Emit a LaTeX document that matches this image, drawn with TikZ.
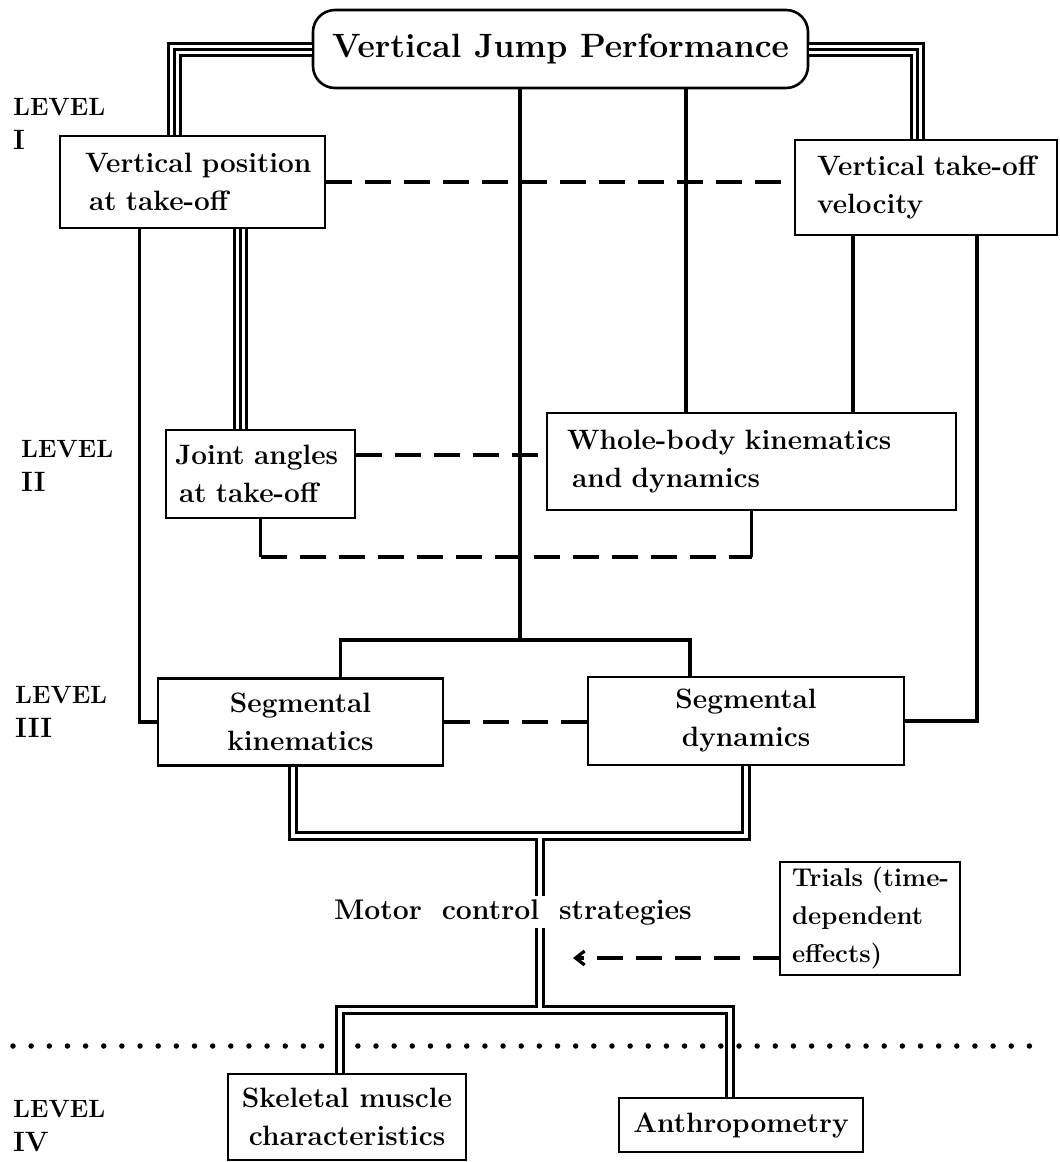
\documentclass[tikz,border=0pt]{standalone}
\usepackage{fontspec}
\usetikzlibrary{arrows.meta}
\begin{document}
\begin{tikzpicture}[x=1pt,y=-1pt]
\tikzset{
 box/.style={draw, line width=2.6pt, inner sep=0pt, font=\bfseries\fontsize{28pt}{38pt}\selectfont},
 boxl/.style={box, align=left},
 boxc/.style={box, align=center},
 conn/.style={line width=3.5pt},
 dashl/.style={line width=3.2pt, dash pattern=on 26pt off 13pt},
 dbl/.style={double, double distance=4.5pt, line width=2.6pt},
 triple/.style={line width=15pt, postaction={draw=white, line width=9pt, postaction={draw=black, line width=3pt}}},
 lvl/.style={anchor=north west, align=left, inner sep=0pt, font=\bfseries\fontsize{25pt}{34pt}\selectfont},
 dotsep/.style={line width=5.5pt, line cap=round, dash pattern=on 0pt off 18.15pt}
}
\useasboundingbox (0,0) rectangle (1060,1162);

% nodes
\node[box, rounded corners=22pt, minimum width=495pt, minimum height=78pt, font=\bfseries\fontsize{33.7pt}{38pt}\selectfont] (title) at (560.5,49) {Vertical Jump Performance};
\node[boxl, text width=215pt, inner xsep=25pt, minimum height=92pt] (vp) at (192.5,182) {\mbox{Vertical position}\\\mbox{\hspace{4pt}at take-off}};
\node[boxl, text width=218pt, inner xsep=22pt, minimum height=95pt] (vto) at (926,187.5) {\mbox{Vertical take-off}\\\mbox{velocity}};
\node[boxl, text width=171pt, inner xsep=9pt, minimum height=88pt] (ja) at (260.5,474) {\mbox{Joint angles}\\\mbox{\hspace{4pt}at take-off}};
\node[boxl, text width=369pt, inner xsep=20pt, minimum height=97pt] (wb) at (751.5,461.5) {\mbox{Whole-body kinematics}\\\mbox{\hspace{5pt}and dynamics}};
\node[boxc, minimum width=285pt, minimum height=87pt] (kin) at (300.5,722) {Segmental\\kinematics};
\node[boxc, minimum width=316pt, minimum height=88pt] (dyn) at (746,721) {Segmental\\dynamics};
\node[inner xsep=0pt, inner ysep=3pt, font=\bfseries\fontsize{28.4pt}{38pt}\selectfont] (mcs) at (513,912) {Motor\hspace{0.7em}control\hspace{0.7em}strategies};
\node[boxl, text width=156pt, inner xsep=12pt, minimum height=113pt, font=\bfseries\fontsize{25.7pt}{38pt}\selectfont] (trials) at (870,918.5) {\mbox{Trials (time-}\\\mbox{dependent}\\\mbox{effects)}};
\node[boxc, minimum width=238pt, minimum height=86pt] (sk) at (347,1117) {Skeletal muscle\\characteristics};
\node[boxc, minimum width=244pt, minimum height=54pt] (anth) at (741,1125) {Anthropometry};

% level labels
\node[lvl] (l1) at (13,98) {LEVEL\\{\fontsize{28pt}{34pt}\selectfont I}};
\node[lvl] (l2) at (21,440) {LEVEL\\{\fontsize{28pt}{34pt}\selectfont II}};
\node[lvl] (l3) at (15,686) {LEVEL\\{\fontsize{28pt}{34pt}\selectfont III}};
\node[lvl] (l4) at (13,1100) {LEVEL\\{\fontsize{28pt}{34pt}\selectfont IV}};

% junction coordinates
\coordinate (j3) at (520,640);
\coordinate (j4) at (540,836);
\coordinate (j5) at (540,1010);
\coordinate (jw) at (0,557);
\coordinate (arrend) at (573,958);
\coordinate (dotL) at (13,1046);
\coordinate (dotR) at (1031,1046);

% level separator
\draw[dotsep] (dotL) -- (dotR);

% triple connectors
\draw[triple] (title.west) -| ([xshift=-18.5pt]vp.north);
\draw[triple] (title.east) -| ([xshift=-9pt]vto.north);
\draw[triple] ([xshift=-20.5pt]ja.north |- vp.south) -- ([xshift=-20.5pt]ja.north);

% solid connectors
\draw[conn] ([xshift=-53pt]vp.south) |- (kin.west);
\draw[conn] ([xshift=51pt]vto.south) |- (dyn.east);
\draw[conn] ([xshift=-73pt]vto.south) -- ([xshift=-73pt]vto.south |- wb.north);
\draw[conn] ([xshift=125.5pt]title.south) -- ([xshift=125.5pt]title.south |- wb.north);
\draw[conn] ([xshift=40pt]kin.north) |- (j3) -| ([xshift=-56pt]dyn.north);
\draw[conn] (title.south -| j3) -- (j3);

% dashed connectors
\draw[dashl] (vp.east) -- (vp.east -| vto.west);
\draw[dashl] ([yshift=19pt]ja.east) -- ([yshift=19pt]ja.east -| wb.west);
\draw[conn] (ja.south) -- (ja.south |- jw);
\draw[dashl] (ja.south |- jw) -- (wb.south |- jw);
\draw[conn] (wb.south |- jw) -- (wb.south);
\draw[dashl] (kin.east) -- (kin.east -| dyn.west);
\draw[dashl, -{Straight Barb[length=9pt,width=14pt]}] ([yshift=-39.5pt]trials.west) -- (arrend);

% double connectors
\draw[dbl] ([xshift=-7.5pt]kin.south) |- (j4) -| (dyn.south);
\draw[dbl] ([yshift=-2.25pt]j4) -- (j4 |- mcs.north);
\draw[dbl] ([xshift=-7pt]sk.north) |- (j5) -| ([xshift=-11pt]anth.north);
\draw[dbl] (j4 |- mcs.south) -- ([yshift=2.25pt]j5);
\end{tikzpicture}
\end{document}
